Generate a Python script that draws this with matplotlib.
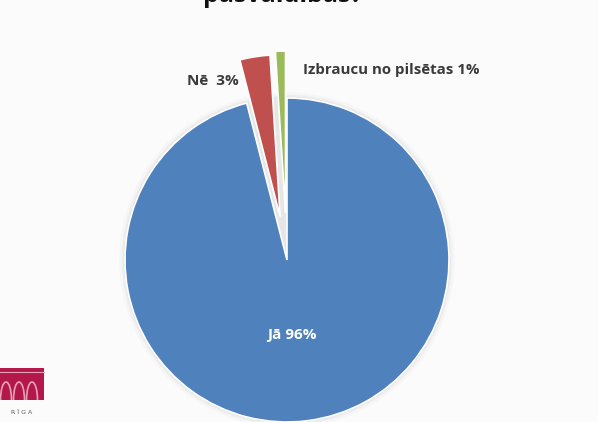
import matplotlib
matplotlib.use('Agg')
import matplotlib.pyplot as plt
from matplotlib.patches import Rectangle, Circle, Arc

# data
labels = ['Jā', 'Nē', 'Izbraucu no pilsētas']
shares = [96, 3, 1]
colors = ['#4f81bd', '#c0504d', '#9bbb59']
explode = [0, 0.27, 0.29]
title = 'pašvaldības?'

W, H = 598, 422
cx, cy, R = 287, 260, 162  # pie centre / radius in pixels

fig = plt.figure(figsize=(W / 100, H / 100), dpi=100)
fig.patch.set_facecolor('#fbfbfb')
ax = fig.add_axes([0, 0, 1, 1])
ax.axis('off')

# soft shadow behind the pie
for r, a in [(1.035, 0.05), (1.02, 0.07), (1.01, 0.1)]:
    ax.add_patch(Circle((0, 0), r, color='#9a9a9a', alpha=a, lw=0, zorder=0))

wedges, _ = ax.pie(shares, colors=colors, explode=explode, startangle=90,
                   counterclock=False, radius=1, frame=False,
                   wedgeprops=dict(edgecolor='white', linewidth=1.2))
ax.set_xlim(-cx / R, (W - cx) / R)
ax.set_ylim(-(H - cy) / R, cy / R)
ax.set_aspect('auto')

font = 'Open Sans'
ax.text(0.03, -0.463, f'{labels[0]} {shares[0]}%', color='white', fontsize=11,
        fontweight='bold', family=font, ha='center', va='center')
ax.text(-0.457, 1.105, f'{labels[1]}  {shares[1]}%', color='#3a3a3a', fontsize=11,
        fontweight='bold', family=font, ha='center', va='center')
ax.text(0.642, 1.173, f'{labels[2]} {shares[2]}%', color='#3a3a3a', fontsize=10.8,
        fontweight='bold', family=font, ha='center', va='center')

# title, mostly cut off at the top edge (as in the source slide)
fig.text(283 / W, 1 - 2.5 / H, title, fontsize=18, fontweight='bold', family=font,
         color='#111111', ha='center', va='baseline')

# logo in the lower left corner
lax = fig.add_axes([0, 0, 1, 1], facecolor='none')
lax.set_xlim(0, W)
lax.set_ylim(H, 0)
lax.axis('off')
lax.add_patch(Rectangle((0, 368), 44, 32, color='#b3174b', lw=0))
for x0 in [6, 19, 32]:
    lax.add_patch(Arc((x0, 400), 11, 36, theta1=180, theta2=360,
                      color='#e7a3b6', lw=1.2))
lax.plot([0, 44], [372, 372], color='#e7a3b6', lw=0.8)
lax.text(22, 412, 'R Ī G A', fontsize=4.5, color='#555555', ha='center', va='center',
         family='DejaVu Sans')

fig.savefig('out.png', dpi=100, facecolor=fig.get_facecolor())
